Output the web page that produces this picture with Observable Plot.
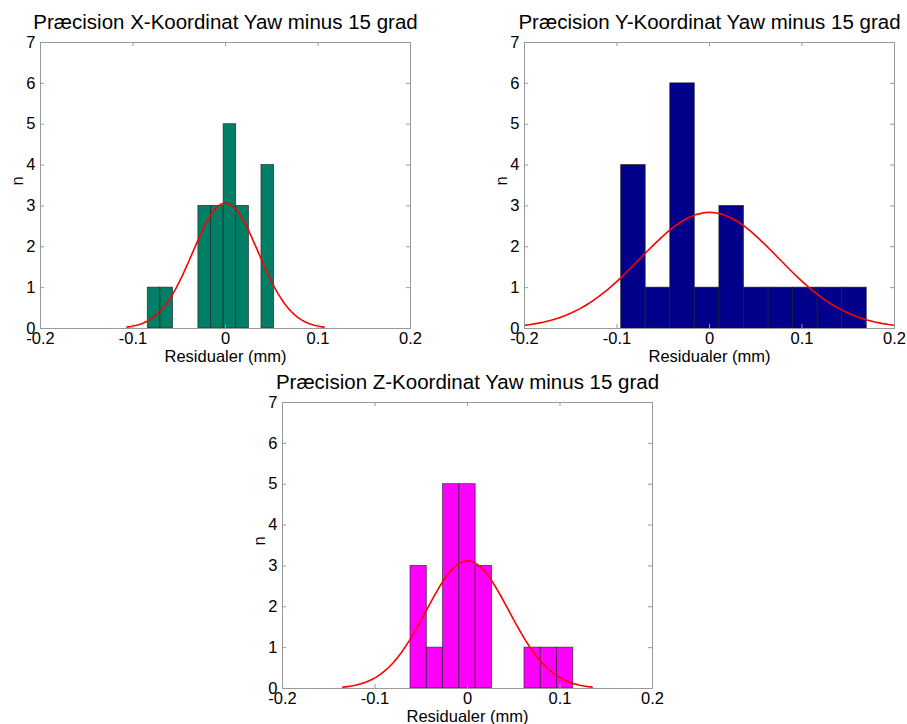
<!DOCTYPE html>
<html>
<head>
<meta charset="utf-8">
<script src="https://cdn.jsdelivr.net/npm/d3@7"></script>
<script src="https://cdn.jsdelivr.net/npm/@observablehq/plot@0.6"></script>
<style>
  body { margin: 0; background: #fff; }
  #page { position: relative; width: 907px; height: 724px; background: #fff; overflow: hidden; }
  .panel { position: absolute; }
</style>
</head>
<body>
<div id="page"></div>
<script>
// Axis ticks shared by all three histograms
const xTicks = [-0.2, -0.1, 0, 0.1, 0.2];
const yTicks = [0, 1, 2, 3, 4, 5, 6, 7];

// Panel titles and axis labels
const titles = [
  "Præcision X-Koordinat Yaw minus 15 grad",
  "Præcision Y-Koordinat Yaw minus 15 grad",
  "Præcision Z-Koordinat Yaw minus 15 grad"
];
const xLabel = "Residualer (mm)";
const yLabel = "n";

// Histogram bin edges (mm) and counts per coordinate
const xEdges = [-0.0840, -0.0703, -0.0567, -0.0430, -0.0293, -0.0157, -0.0020, 0.0116, 0.0253, 0.0389, 0.0526];
const xCounts = [1, 1, 0, 0, 3, 3, 5, 3, 0, 4];

const yEdges = [-0.0955, -0.0690, -0.0424, -0.0159, 0.0107, 0.0372, 0.0638, 0.0903, 0.1169, 0.1434, 0.1700];
const yCounts = [4, 1, 6, 1, 3, 1, 1, 1, 1, 1];

const zEdges = [-0.0616, -0.0440, -0.0264, -0.0088, 0.0088, 0.0264, 0.0440, 0.0616, 0.0792, 0.0967, 0.1143];
const zCounts = [3, 1, 5, 5, 3, 0, 0, 1, 1, 1];

// Normal fit parameters (mean, standard deviation) per coordinate
const fitMean = [0, 0, 0];
const fitSigma = [0.0355, 0.0745, 0.0449];

// Bar colours per coordinate
const barColors = ["#007f66", "#00008b", "#ff00ff"];

// Panel placement on the page: [left, top, width, height] and frame margins
const panels = [
  { left: 0,   top: 0,   width: 430, height: 372, mL: 40, mR: 20, mT: 42, mB: 44, edges: xEdges, counts: xCounts },
  { left: 484, top: 0,   width: 423, height: 372, mL: 40, mR: 13, mT: 42, mB: 44, edges: yEdges, counts: yCounts },
  { left: 242, top: 360, width: 430, height: 364, mL: 40, mR: 20, mT: 42, mB: 36, edges: zEdges, counts: zCounts }
];

const fmt = d => String(d);
const boxColor = "#9a9a9a";

panels.forEach((p, i) => {
  const bins = p.counts.map((c, k) => ({ x1: p.edges[k], x2: p.edges[k + 1], n: c }));
  const binWidth = (p.edges[p.edges.length - 1] - p.edges[0]) / p.counts.length;
  const total = d3.sum(p.counts);
  const mu = fitMean[i], sd = fitSigma[i];
  // histfit-style curve: scaled normal density over mean ± 3 sd
  const curve = d3.range(-30, 31).map(k => {
    const x = mu + (k / 10) * sd;
    const z = (x - mu) / sd;
    return { x, y: total * binWidth * Math.exp(-0.5 * z * z) / (sd * Math.sqrt(2 * Math.PI)) };
  });

  const frameW = p.width - p.mL - p.mR;
  const frameH = p.height - p.mT - p.mB;

  const chart = Plot.plot({
    width: p.width,
    height: p.height,
    marginLeft: p.mL,
    marginRight: p.mR,
    marginTop: p.mT,
    marginBottom: p.mB,
    style: { fontFamily: "'Liberation Sans', Arial, sans-serif", fontSize: "16px", background: "transparent", overflow: "visible", color: "#000" },
    x: { domain: [-0.2, 0.2] },
    y: { domain: [0, 7] },
    marks: [
      Plot.rectY(bins.filter(b => b.n > 0), {
        x1: "x1", x2: "x2", y1: 0, y2: "n",
        fill: barColors[i], stroke: "#222", strokeWidth: 0.8, strokeOpacity: 0.8
      }),
      Plot.line(curve, { x: "x", y: "y", stroke: "#ff0000", strokeWidth: 1.6, clip: true }),
      Plot.frame({ stroke: boxColor }),
      // inward tick marks on all four sides
      Plot.tickX(xTicks, { x: d => d, stroke: boxColor, insetTop: frameH - 4 }),
      Plot.tickX(xTicks, { x: d => d, stroke: boxColor, insetBottom: frameH - 4 }),
      Plot.tickY(yTicks, { y: d => d, stroke: boxColor, insetRight: frameW - 4 }),
      Plot.tickY(yTicks, { y: d => d, stroke: boxColor, insetLeft: frameW - 4 }),
      Plot.axisX({ ticks: xTicks, tickFormat: fmt, tickSize: 0, tickPadding: 4, fontSize: 16.5, label: null }),
      Plot.axisY({ ticks: yTicks, tickFormat: fmt, tickSize: 0, tickPadding: 5, fontSize: 16.5, label: null }),
      Plot.text([titles[i]], { frameAnchor: "top", lineAnchor: "middle", dy: -20, fontSize: 20.5, fill: "#000" }),
      Plot.text([xLabel], { frameAnchor: "bottom", lineAnchor: "middle", dy: 28, fontSize: 16.5, fill: "#000" }),
      Plot.text([yLabel], { frameAnchor: "left", dx: -23, rotate: -90, fontSize: 16.5, fill: "#000" })
    ]
  });

  const holder = document.createElement("div");
  holder.className = "panel";
  holder.style.left = p.left + "px";
  holder.style.top = p.top + "px";
  holder.appendChild(chart);
  document.getElementById("page").appendChild(holder);
});
</script>
</body>
</html>
